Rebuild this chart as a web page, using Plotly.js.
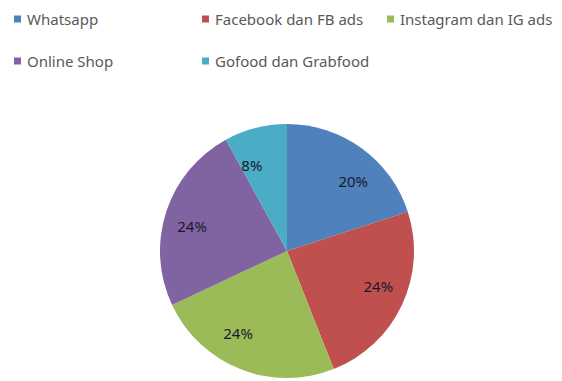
<!DOCTYPE html>
<html>
<head>
<meta charset="utf-8">
<script src="https://cdn.plot.ly/plotly-3.0.1.min.js"></script>
<style>html,body{margin:0;padding:0;background:#fff;}#chart{width:562px;height:381px;}</style>
</head>
<body>
<div id="chart"></div>
<script>
const categories = ["Whatsapp", "Facebook dan FB ads", "Instagram dan IG ads", "Online Shop", "Gofood dan Grabfood"];
const values = [20, 24, 24, 24, 8];
const colors = ["#4F81BD", "#C0504D", "#9BBB59", "#8064A2", "#4BACC6"];

const W = 562, H = 381;
// legend layout (pixel positions of each entry's marker)
const legendPos = [[14, 19], [202, 19], [387, 19], [14, 61], [202, 61]];

const annotations = [];
const shapes = [];
categories.forEach((c, i) => {
  const [px, py] = legendPos[i];
  shapes.push({type: "rect", xref: "paper", yref: "paper",
    x0: px / W, x1: (px + 7) / W, y0: 1 - (py + 3.5) / H, y1: 1 - (py - 3.5) / H,
    fillcolor: colors[i], line: {width: 0}});
  annotations.push({xref: "paper", yref: "paper", x: (px + 11) / W, y: 1 - py / H,
    xanchor: "left", yanchor: "middle", showarrow: false, text: c,
    font: {family: "Noto Sans, sans-serif", size: 15, color: "#595959"}});
});

const cx = 287, cy = 251, r = 127, rl = 79;
const dom = (rad) => ({x: [(cx - rad) / W, (cx + rad) / W], y: [(H - cy - rad) / H, (H - cy + rad) / H]});
const data = [{
  type: "pie",
  labels: categories,
  values: values,
  sort: false,
  direction: "clockwise",
  rotation: 0,
  marker: {colors: colors, line: {width: 0}},
  textinfo: "none",
  hoverinfo: "label+percent",
  domain: dom(r),
  showlegend: false
}, {
  type: "pie",
  labels: categories,
  values: values,
  sort: false,
  direction: "clockwise",
  rotation: 0,
  marker: {colors: colors.map(() => "rgba(0,0,0,0)"), line: {width: 0}},
  textinfo: "percent",
  textposition: "outside",
  automargin: false,
  texttemplate: "%{percent:.0%}",
  outsidetextfont: {family: "Noto Sans, sans-serif", size: 15, color: "#1a1a2e"},
  hoverinfo: "skip",
  domain: dom(rl),
  showlegend: false
}];

const layout = {
  width: W, height: H,
  margin: {l: 0, r: 0, t: 0, b: 0},
  paper_bgcolor: "#ffffff",
  showlegend: false,
  annotations: annotations,
  shapes: shapes
};

Plotly.newPlot("chart", data, layout, {displayModeBar: false, staticPlot: true});
</script>
</body>
</html>
